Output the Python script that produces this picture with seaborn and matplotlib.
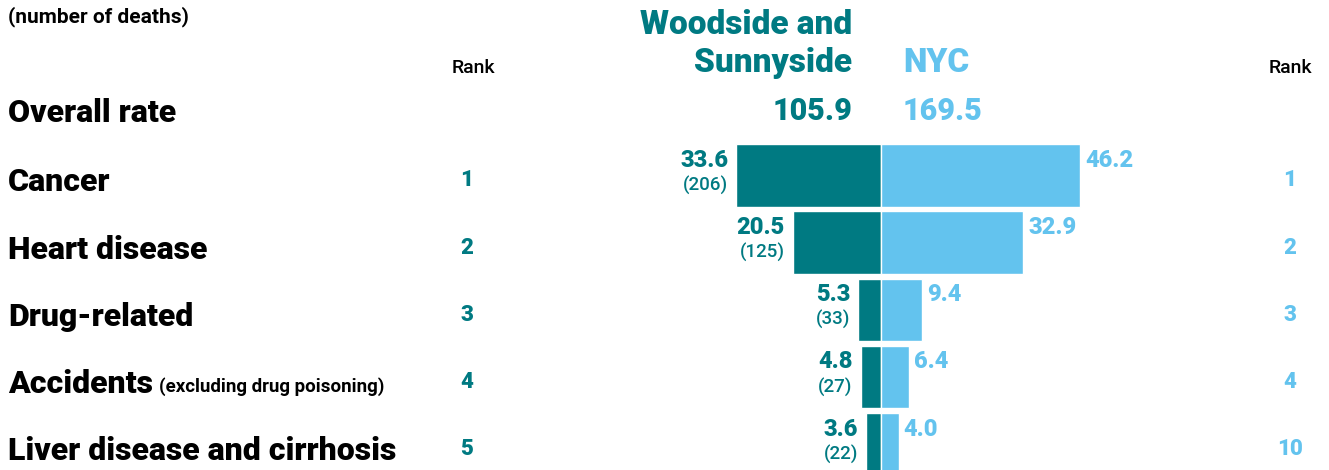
import matplotlib
matplotlib.use("Agg")
import matplotlib.pyplot as plt
from matplotlib import font_manager
import seaborn as sns
import pandas as pd

# ---- data ----
causes = ["Cancer", "Heart disease", "Drug-related", "Accidents", "Liver disease and cirrhosis"]
local_rate = [33.6, 20.5, 5.3, 4.8, 3.6]
local_deaths = [206, 125, 33, 27, 22]
nyc_rate = [46.2, 32.9, 9.4, 6.4, 4.0]
local_rank = [1, 2, 3, 4, 5]
nyc_rank = [1, 2, 3, 4, 10]
overall_local = 105.9
overall_nyc = 169.5
area_name = ["Woodside and", "Sunnyside"]

TEAL = "#007A82"
SKY = "#63C3EE"
INK = "#000000"

W, H = 1329, 470
sns.set_theme(style="white")
plt.rcParams["font.family"] = ["Roboto", "DejaVu Sans"]

names = {f.name for f in font_manager.fontManager.ttflist}
NARROW = "Liberation Sans Narrow" if "Liberation Sans Narrow" in names else "Roboto"

fig = plt.figure(figsize=(W / 100, H / 100), dpi=100)
ax = fig.add_axes([0, 0, 1, 1])

# horizontal scale: rate units -> pixels, zero at the centre line
CX, SCALE = 881.3, 4.31
# rows: centre of first row at 175.4 px, 67.2 px apart
Y0, DY = 175.4, 67.2

df = pd.DataFrame({"cause": causes, "local": [-v for v in local_rate], "nyc": nyc_rate})
sns.barplot(data=df, x="local", y="cause", orient="h", color=TEAL, width=0.93,
            edgecolor="white", linewidth=1.0, saturation=1, ax=ax)
sns.barplot(data=df, x="nyc", y="cause", orient="h", color=SKY, width=0.93,
            edgecolor="white", linewidth=1.0, saturation=1, ax=ax)
ax.set_xlim(-CX / SCALE, (W - CX) / SCALE)
ax.set_ylim((H - Y0) / DY, -Y0 / DY)
ax.axis("off")


def px(x):
    return x / W


def py(y):
    return 1 - y / H


HEAVY = 900

# headers
fig.text(px(8), py(17), "(number of deaths)", fontsize=15, family=NARROW,
         fontweight="bold", color=INK, ha="left", va="center")
for xr in (473, 1290):
    fig.text(px(xr), py(68), "Rank", fontsize=14, family=NARROW, fontweight="medium",
             color=INK, ha="center", va="center")
fig.text(px(852), py(25), area_name[0], fontsize=24, fontweight=HEAVY, color=TEAL,
         ha="right", va="center")
fig.text(px(852), py(63), area_name[1], fontsize=24, fontweight=HEAVY, color=TEAL,
         ha="right", va="center")
fig.text(px(903), py(63), "NYC", fontsize=24, fontweight=HEAVY, color=SKY,
         ha="left", va="center")
fig.text(px(852), py(111), f"{overall_local:.1f}", fontsize=22, fontweight=HEAVY,
         color=TEAL, ha="right", va="center")
fig.text(px(903), py(111), f"{overall_nyc:.1f}", fontsize=22, fontweight=HEAVY,
         color=SKY, ha="left", va="center")
fig.text(px(8), py(113), "Overall rate", fontsize=23, fontweight=HEAVY,
         color=INK, ha="left", va="center")

# row labels, ranks and values
PAD = 8 / SCALE
for i, cause in enumerate(causes):
    yc = Y0 + DY * i
    t = fig.text(px(8), py(yc + 7), cause, fontsize=23, fontweight=HEAVY,
                 color=INK, ha="left", va="center")
    if cause == "Accidents":
        fig.canvas.draw()
        bb = t.get_window_extent()
        fig.text((bb.x1 + 6) / W, py(yc + 15), "(excluding drug poisoning)",
                 fontsize=13.5, family=NARROW, fontweight="bold", color=INK,
                 ha="left", va="baseline")
    fig.text(px(467), py(yc + 5), str(local_rank[i]), fontsize=16, fontweight=HEAVY,
             color=TEAL, ha="center", va="center")
    fig.text(px(1290), py(yc + 5), str(nyc_rank[i]), fontsize=16, fontweight=HEAVY,
             color=SKY, ha="center", va="center")
    ax.text(-local_rate[i] - PAD, i - 15 / DY, f"{local_rate[i]:.1f}", fontsize=17,
            fontweight=HEAVY, color=TEAL, ha="right", va="center")
    ax.text(-local_rate[i] - PAD, i + 10 / DY, f"({local_deaths[i]})", fontsize=13.5,
            family=NARROW, fontweight="medium", color=TEAL, ha="right", va="center")
    ax.text(nyc_rate[i] + 5 / SCALE, i - 15 / DY, f"{nyc_rate[i]:.1f}", fontsize=17,
            fontweight=HEAVY, color=SKY, ha="left", va="center")

fig.savefig("out.png", dpi=100)
